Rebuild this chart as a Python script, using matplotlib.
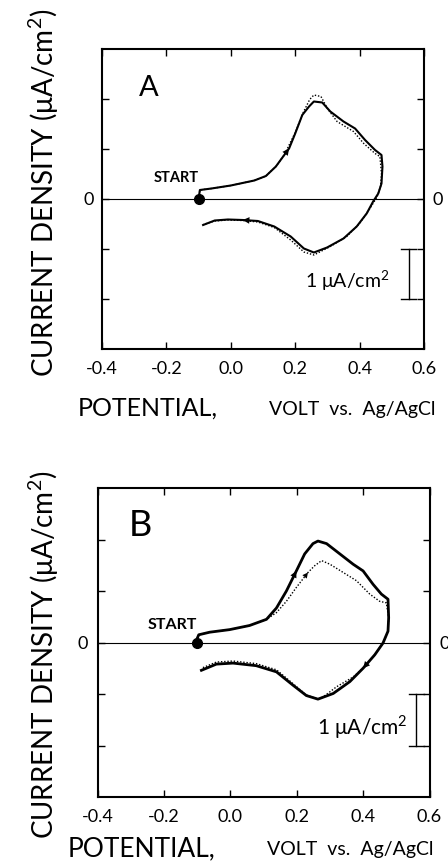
import matplotlib

matplotlib.use('AGG')
import matplotlib.pyplot as plt

# cyclic voltammograms, panel A and B (solid = first scan, dotted = second scan)
a_solid_x = [-0.10, -0.096, -0.06, 0.0, 0.073, 0.109, 0.14, 0.166, 0.181, 0.20, 0.222, 0.243, 0.258, 0.284, 0.309,
             0.35, 0.386, 0.417, 0.448, 0.468, 0.471, 0.468, 0.458, 0.442, 0.422, 0.391, 0.35, 0.299, 0.258, 0.227,
             0.186, 0.135, 0.084, 0.037, -0.009, -0.05, -0.086]
a_solid_y = [0.0, 0.17, 0.20, 0.26, 0.36, 0.45, 0.64, 0.87, 1.0, 1.30, 1.67, 1.84, 1.94, 1.92, 1.74,
             1.54, 1.40, 1.17, 0.97, 0.87, 0.64, 0.30, 0.10, -0.06, -0.30, -0.56, -0.80, -0.98, -1.08, -1.0,
             -0.76, -0.56, -0.45, -0.43, -0.42, -0.44, -0.53]
a_dot_x = [-0.10, -0.096, -0.06, 0.0, 0.073, 0.109, 0.14, 0.166, 0.20, 0.225, 0.245, 0.258, 0.28, 0.30, 0.33,
           0.381, 0.413, 0.448, 0.463, 0.468, 0.465, 0.454, 0.432, 0.40, 0.36, 0.309, 0.258, 0.227, 0.186, 0.135,
           0.084, 0.037, -0.009, -0.05, -0.086]
a_dot_y = [0.0, 0.17, 0.20, 0.26, 0.36, 0.45, 0.64, 0.87, 1.32, 1.72, 1.98, 2.07, 2.04, 1.80, 1.54,
           1.34, 1.10, 0.90, 0.84, 0.50, 0.24, 0.03, -0.20, -0.50, -0.76, -0.96, -1.13, -1.07, -0.83, -0.58,
           -0.47, -0.44, -0.43, -0.45, -0.52]

b_solid_x = [-0.105, -0.095, -0.062, -0.002, 0.058, 0.109, 0.139, 0.169, 0.199, 0.224, 0.249, 0.264, 0.29, 0.33,
             0.37, 0.40, 0.43, 0.455, 0.475, 0.477, 0.475, 0.46, 0.435, 0.40, 0.36, 0.31, 0.264, 0.229, 0.189,
             0.139, 0.078, 0.008, -0.042, -0.087]
b_solid_y = [0.0, 0.15, 0.20, 0.25, 0.33, 0.45, 0.67, 1.0, 1.39, 1.72, 1.92, 1.97, 1.92, 1.72,
             1.52, 1.39, 1.13, 0.94, 0.84, 0.48, 0.22, -0.01, -0.24, -0.50, -0.76, -0.99, -1.10, -1.03, -0.83,
             -0.57, -0.45, -0.40, -0.42, -0.54]
b_dot_x = [-0.105, -0.095, -0.062, -0.002, 0.058, 0.109, 0.139, 0.169, 0.199, 0.234, 0.254, 0.275, 0.30, 0.34,
           0.38, 0.42, 0.45, 0.47, 0.477, 0.475, 0.46, 0.435, 0.40, 0.37, 0.32, 0.279, 0.264, 0.229, 0.189,
           0.139, 0.078, 0.008, -0.042, -0.087]
b_dot_y = [0.0, 0.15, 0.20, 0.25, 0.33, 0.45, 0.58, 0.80, 1.07, 1.36, 1.49, 1.59, 1.52, 1.36,
           1.20, 0.94, 0.80, 0.77, 0.48, 0.22, -0.01, -0.24, -0.50, -0.67, -0.86, -1.06, -1.10, -1.02, -0.80,
           -0.53, -0.41, -0.36, -0.38, -0.50]

start_x, start_y = -0.10, 0.0
x_ticks = [-0.4, -0.2, 0.0, 0.2, 0.4, 0.6]
y_ticks = [-2, -1, 0, 1, 2]

plt.rcParams['font.family'] = ['Lato', 'DejaVu Sans']
plt.rcParams['mathtext.fontset'] = 'custom'
plt.rcParams['mathtext.rm'] = 'Lato'
plt.rcParams['axes.unicode_minus'] = False

W, H = 448.0, 861.0
fig = plt.figure(figsize=(4.48, 8.61), dpi=100)


def fx(px):
    return px / W


def fy(py):
    return 1 - py / H


def arrow(ax, xs, ys, i, ms=12):
    ax.annotate('', xy=(xs[i], ys[i]), xytext=(xs[i - 1], ys[i - 1]),
                arrowprops=dict(arrowstyle='-|>', color='k', lw=0, mutation_scale=ms,
                                shrinkA=0, shrinkB=0))


def panel(rect, letter, sx, sy, dx, dy, arrows_s, arrows_d, lw, opts):
    ax = fig.add_axes(rect)
    ax.set_xlim(-0.4, 0.6)
    ax.set_ylim(-3, 3)
    ax.axhline(0, color='k', lw=0.8, zorder=1)
    ax.plot(dx, dy, color='k', lw=1.0, ls=(0, (1, 1.3)), zorder=2)
    ax.plot(sx, sy, color='k', lw=lw, zorder=3)
    ax.plot([start_x], [start_y], 'o', color='k', ms=7, zorder=4)
    for i in arrows_s:
        arrow(ax, sx, sy, i)
    for i in arrows_d:
        arrow(ax, dx, dy, i, ms=10)
    ax.set_xticks(x_ticks)
    ax.set_xticklabels(['%.1f' % v for v in x_ticks])
    ax.set_yticks(y_ticks)
    ax.set_yticklabels(['0' if v == 0 else '' for v in y_ticks])
    ax.tick_params(direction='in', length=5, width=1, top=True, right=True, labelright=True,
                   labelsize=13)
    ax.tick_params(axis='x', pad=opts['xpad'])
    ax.tick_params(axis='y', which='both', pad=opts['ypad'])
    for s in ax.spines.values():
        s.set_linewidth(1.5)
    ax.text(opts['letter_xy'][0], opts['letter_xy'][1], letter, fontsize=opts['letter_fs'],
            ha='center', va='center')
    ax.text(opts['start_xy'][0], opts['start_xy'][1], 'START', fontsize=opts['start_fs'],
            fontweight='bold', ha='center', va='center')
    # 1 uA/cm2 scale bar
    bx = opts['bar_x']
    ax.plot([bx, bx], [-1, -2], color='k', lw=1.0)
    ax.plot([bx - 0.022, bx + 0.022], [-1, -1], color='k', lw=1.0)
    ax.plot([bx - 0.022, bx + 0.022], [-2, -2], color='k', lw=1.0)
    ax.text(bx - opts['bar_gap'], -1.65, '1 μA/cm$^2$', fontsize=opts['bar_fs'], ha='right', va='center')
    return ax


panel([fx(102), fy(348.5), fx(322), 300 / H], 'A', a_solid_x, a_solid_y, a_dot_x, a_dot_y,
      [8, 33], [], 1.5,
      dict(xpad=9, ypad=6, letter_xy=(-0.255, 2.2), letter_fs=21, start_xy=(-0.17, 0.42), start_fs=10.5,
           bar_x=0.552, bar_fs=14, bar_gap=0.06))
panel([fx(97.5), fy(797), fx(332), 309 / H], 'B', b_solid_x, b_solid_y, b_dot_x, b_dot_y,
      [8, 23], [9], 2.0,
      dict(xpad=9, ypad=7, letter_xy=(-0.27, 2.27), letter_fs=26, start_xy=(-0.175, 0.34), start_fs=11.5,
           bar_x=0.56, bar_fs=15, bar_gap=0.025))

ylab = 'CURRENT DENSITY (μA/cm$^2$)'
fig.text(fx(44), fy(193), ylab, rotation=90, fontsize=20, ha='center', va='center')
fig.text(fx(44), fy(655), ylab, rotation=90, fontsize=20, ha='center', va='center')

fig.text(fx(78), fy(416), 'POTENTIAL,', fontsize=18, ha='left', va='baseline')
fig.text(fx(435), fy(415), 'VOLT  vs.  Ag/AgCl', fontsize=14, ha='right', va='baseline')
fig.text(fx(68), fy(856), 'POTENTIAL,', fontsize=19, ha='left', va='baseline')
fig.text(fx(433), fy(855), 'VOLT  vs.  Ag/AgCl', fontsize=14, ha='right', va='baseline')

fig.savefig('out.png', dpi=100)
